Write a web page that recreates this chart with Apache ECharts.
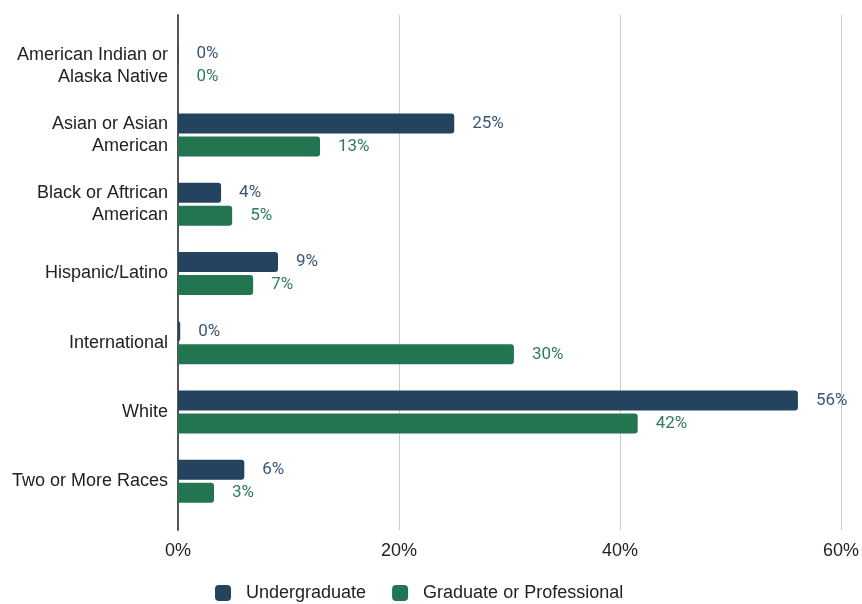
<!DOCTYPE html>
<html><head><meta charset="utf-8">
<script src="https://cdn.jsdelivr.net/npm/echarts@6/dist/echarts.min.js"></script>
<style>html,body{margin:0;padding:0;background:#fff}#c{width:862px;height:604px}</style>
</head><body><div id="c"></div>
<script>
const categories = ["American Indian or\nAlaska Native", "Asian or Asian\nAmerican", "Black or Aftrican\nAmerican", "Hispanic/Latino", "International", "White", "Two or More Races"];
const undergraduate = [0.05, 25.0, 3.9, 9.05, 0.2, 56.1, 6.0];
const graduate = [0.05, 12.85, 4.9, 6.8, 30.4, 41.6, 3.26];
const seriesNames = ["Undergraduate", "Graduate or Professional"];
const xTicks = [0, 20, 40, 60];

const chart = echarts.init(document.getElementById('c'), null, {renderer: 'canvas'});
const fmt = p => Math.round(p.value) + '%';
const SANS = '"Liberation Sans", Arial, sans-serif';
chart.setOption({
  animation: false,
  textStyle: {fontFamily: SANS},
  legend: {
    top: 579, left: 210, itemWidth: 16, itemHeight: 16, itemGap: 26,
    icon: 'roundRect',
    textStyle: {fontSize: 18, color: '#222', fontFamily: SANS, padding: [0, 0, 0, 10]},
    data: seriesNames
  },
  grid: [
    {left: 178, right: 21, top: 15, bottom: 74},
    {left: 178, right: 21, top: 31, bottom: 88}
  ],
  xAxis: [
    {gridIndex: 0, type: 'value', min: xTicks[0], max: xTicks[xTicks.length-1], interval: 20,
     axisLabel: {formatter: '{value}%', fontSize: 18, color: '#222', margin: 12, fontFamily: SANS},
     splitLine: {show: true, lineStyle: {color: '#cccccc', width: 1}},
     axisLine: {show: false}, axisTick: {show: false}},
    {gridIndex: 1, type: 'value', min: 0, max: 60, interval: 20,
     axisLabel: {show: false}, splitLine: {show: false}, axisLine: {show: false}, axisTick: {show: false}}
  ],
  yAxis: [
    {gridIndex: 0, type: 'category', data: ['x'], axisLabel: {show: false}, axisTick: {show: false},
     axisLine: {show: true, lineStyle: {color: '#555', width: 2}}},
    {gridIndex: 1, type: 'category', data: categories, inverse: true,
     axisLine: {show: false}, axisTick: {show: false},
     axisLabel: {fontSize: 18, color: '#222', lineHeight: 22, margin: 10, align: 'right', fontFamily: SANS}}
  ],
  series: [
    {name: seriesNames[0], type: 'bar', xAxisIndex: 1, yAxisIndex: 1, data: undergraduate,
     barWidth: 20, barGap: '15%',
     itemStyle: {color: '#23435e', borderRadius: [0, 3, 3, 0]},
     label: {show: true, position: 'right', distance: 18, formatter: fmt, fontSize: 17, fontFamily: 'Roboto', color: '#3a5675'}},
    {name: seriesNames[1], type: 'bar', xAxisIndex: 1, yAxisIndex: 1, data: graduate,
     barWidth: 20, barGap: '15%',
     itemStyle: {color: '#237450', borderRadius: [0, 3, 3, 0]},
     label: {show: true, position: 'right', distance: 18, formatter: fmt, fontSize: 17, fontFamily: 'Roboto', color: '#2e7d5a'}}
  ]
});
</script></body></html>
